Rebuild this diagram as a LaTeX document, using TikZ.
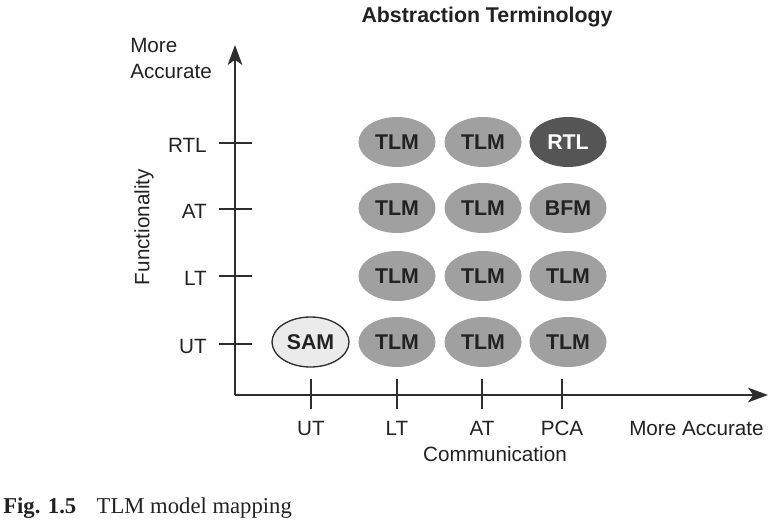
\documentclass[tikz,border=0pt]{standalone}
\usepackage{fontspec}
\setmainfont{Liberation Serif}
\setsansfont{Liberation Sans}
\usetikzlibrary{shapes.geometric,arrows.meta}
\definecolor{axisc}{HTML}{2E2E2E}
\definecolor{tlmfill}{HTML}{A0A0A0}
\definecolor{rtlfill}{HTML}{555555}
\definecolor{samfill}{HTML}{EBEBEB}
\definecolor{txtc}{HTML}{222222}
\begin{document}
\begin{tikzpicture}[x=0.75pt,y=-0.75pt,
  lab/.style={font=\sffamily\fontsize{15.5}{17}\selectfont, text=txtc, inner sep=0pt},
  oval/.style={ellipse, minimum width=57.75pt, minimum height=37.5pt, inner sep=0pt,
     fill=tlmfill, text=txtc, font=\sffamily\bfseries\fontsize{16}{18}\selectfont},
  tick/.style={draw=axisc, line width=1.1pt},
  axisline/.style={draw=axisc, line width=1.5pt},
  tip/.style={-{Stealth[length=15pt,width=11pt,inset=4pt]}}]
\useasboundingbox (0,0) rectangle (781,522);
% title
\node[font=\sffamily\bfseries\fontsize{16}{18}\selectfont, text=txtc] (title) at (487,17) {Abstraction Terminology};
% axes
\coordinate (origin) at (235,395);
\coordinate (ytip) at (235,45);
\coordinate (xtip) at (768,395);
\draw[axisline, tip] (origin) -- (ytip);
\draw[axisline, tip] (origin) -- (xtip);
% y ticks
\foreach \n/\y/\t in {rtl/143/RTL, at/209/AT, lt/276/LT, ut/344/UT}{
  \coordinate (yl\n) at (219,\y);
  \coordinate (yr\n) at (252,\y);
  \draw[tick] (yl\n) -- (yr\n);
  \node[lab, anchor=east] (ylab\n) at (207,\y+2) {\t};
}
% x ticks
\foreach \n/\x/\t in {ut/311/UT, lt/397/LT, at/482/AT, pca/562/PCA}{
  \coordinate (xt\n) at (\x,379);
  \coordinate (xb\n) at (\x,409);
  \draw[tick] (xt\n) -- (xb\n);
  \node[lab] (xlab\n) at (\x,428) {\t};
}
\node[lab, anchor=west] (xmore) at (629,428) {More Accurate};
\node[lab] (comm) at (495,454) {Communication};
\node[lab, anchor=west, align=left] (ymore1) at (130,45) {More};
\node[lab, anchor=west, align=left] (ymore2) at (130,71) {Accurate};
\node[lab, rotate=90] (func) at (144,227) {Functionality};
% ovals
\node[oval, fill=samfill, draw=axisc, line width=1pt] (sam) at (310.5,342) {SAM};
\foreach \c/\x in {a/397,b/483,c/568}{
  \node[oval] (ut\c) at (\x,342) {TLM};
  \node[oval] (lt\c) at (\x,276) {TLM};
}
\node[oval] (ata) at (397,208) {TLM};
\node[oval] (atb) at (483,208) {TLM};
\node[oval] (atc) at (568,208) {BFM};
\node[oval] (rtla) at (397,142) {TLM};
\node[oval] (rtlb) at (483,142) {TLM};
\node[oval, fill=rtlfill, text=white] (rtlc) at (568,142) {RTL};
% caption
\node[anchor=west, inner sep=0pt, font=\fontsize{17}{19}\selectfont, text=txtc] (cap) at (3,508) {\textbf{Fig. 1.5}\hspace{0.9em}TLM model mapping};
\end{tikzpicture}
\end{document}
